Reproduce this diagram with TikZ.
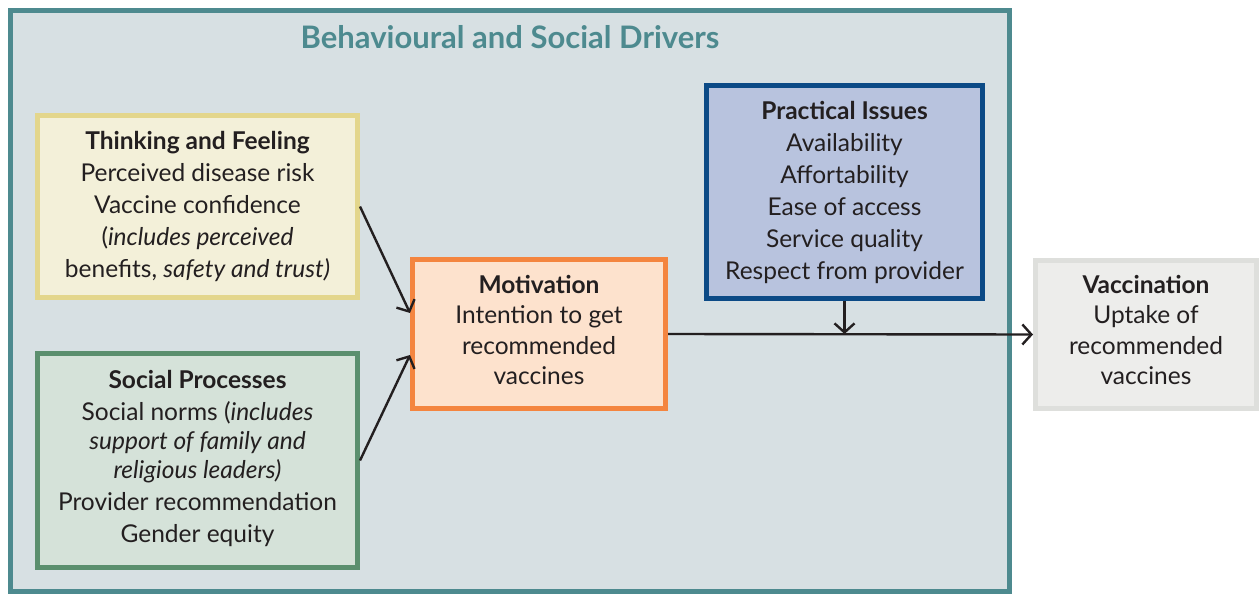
\documentclass[tikz,border=0pt]{standalone}
\usepackage{fontspec}
\setmainfont{Lato}
\usetikzlibrary{arrows.meta,calc}
\definecolor{outerfill}{HTML}{D7E0E3}
\definecolor{outerline}{HTML}{4D8A8F}
\definecolor{tfill}{HTML}{F3F0D9}
\definecolor{tline}{HTML}{E3D68C}
\definecolor{sfill}{HTML}{D5E2D9}
\definecolor{sline}{HTML}{5B8F6E}
\definecolor{mfill}{HTML}{FDE2CD}
\definecolor{mline}{HTML}{F4853F}
\definecolor{pfill}{HTML}{B8C3DE}
\definecolor{pline}{HTML}{0B4A86}
\definecolor{vfill}{HTML}{EDEDEB}
\definecolor{vline}{HTML}{DEDFDC}
\definecolor{ink}{HTML}{231F20}
\tikzset{
  boxnode/.style={rectangle, line width=5pt, inner sep=0pt},
  boxtext/.style={align=center, inner sep=0pt, text=ink, font=\fontsize{24.5}{32}\selectfont},
  conn/.style={draw=ink, line width=2.4pt, -{Straight Barb[length=9pt,width=20pt,line width=2.4pt]}}
}
\begin{document}
\begin{tikzpicture}[x=1pt,y=-1pt]
\useasboundingbox (0,0) rectangle (1259,596);
\node[rectangle, draw=outerline, fill=outerfill, line width=5pt,
  minimum width=999pt, minimum height=581pt, inner sep=0pt] (outer) at (510,301) {};
\node[text=outerline, font=\fontsize{31}{32}\selectfont\bfseries] (title) at (510,37) {Behavioural and Social Drivers};
\node[boxnode, draw=tline, fill=tfill, minimum width=320pt, minimum height=182pt] (think) at (197.5,206.5) {};
\node[boxtext] (thinkt) at (197.5,206)
  {\textbf{Thinking and Feeling}\\Perceived disease risk\\Vaccine confidence\\(\textit{includes perceived}\\benefits, \textit{safety and trust)}};
\node[boxnode, draw=sline, fill=sfill, minimum width=320pt, minimum height=214pt] (social) at (197.5,460.5) {};
\node[boxtext] (socialt) at (197.5,458.5)
  {\textbf{Social Processes}\\Social norms (\textit{includes}\\[-3pt]\textit{support of family and}\\[-3pt]\textit{religious leaders)}\\Provider recommendation\\Gender equity};
\node[boxnode, draw=mline, fill=mfill, minimum width=253pt, minimum height=149pt] (motiv) at (539,334) {};
\node[boxtext, font=\fontsize{24.5}{30.5}\selectfont] (motivt) at (539,330)
  {\textbf{Motivation}\\Intention to get\\recommended\\vaccines};
\node[boxnode, draw=pline, fill=pfill, minimum width=276pt, minimum height=213pt] (prac) at (844.5,192) {};
\node[boxtext] (pract) at (844.5,192)
  {\textbf{Practical Issues}\\Availability\\Affortability\\Ease of access\\Service quality\\Respect from provider};
\node[boxnode, draw=vline, fill=vfill, minimum width=221pt, minimum height=148pt] (vacc) at (1146,334.5) {};
\node[boxtext, font=\fontsize{24.5}{30.5}\selectfont] (vacct) at (1146,330)
  {\textbf{Vaccination}\\Uptake of\\recommended\\vaccines};
\coordinate (j) at (prac.south |- motiv.east);
\draw[conn] (think.east) -- ($(motiv.west)+(0,-21)$);
\draw[conn] (social.east) -- ($(motiv.west)+(0,21)$);
\draw[conn] (motiv.east) -- (vacc.west);
\draw[conn] (prac.south) -- (j);
\end{tikzpicture}
\end{document}
